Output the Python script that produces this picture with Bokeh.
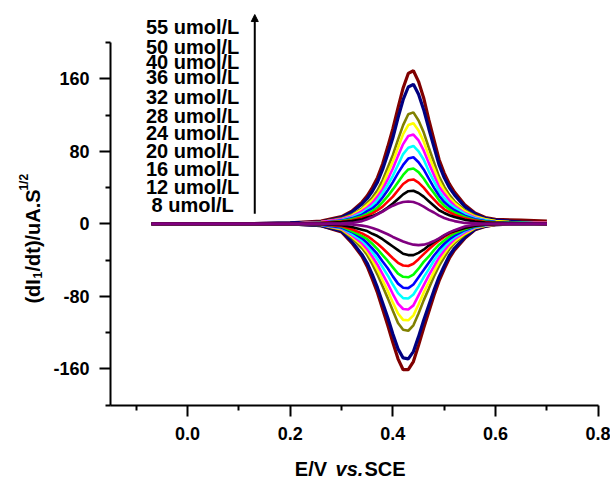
import math
from bokeh.plotting import figure
from bokeh.models import FixedTicker, Label, Arrow, NormalHead, Range1d, ColumnDataSource
from bokeh.embed import file_html
from bokeh.resources import INLINE
from bokeh.core.properties import value

# ---------------- data ----------------
potential = [-0.07, 0.10, 0.20, 0.26, 0.30, 0.32, 0.34, 0.35, 0.36, 0.37, 0.38, 0.39, 0.40,
             0.41, 0.42, 0.43, 0.44, 0.45, 0.46, 0.47, 0.48, 0.49, 0.50, 0.51, 0.52, 0.54,
             0.56, 0.58, 0.60, 0.65, 0.70]

concentrations = ["8 umol/L", "12 umol/L", "16 umol/L", "20 umol/L", "24 umol/L", "28 umol/L",
                  "32 umol/L", "36 umol/L", "40 umol/L", "50 umol/L", "55 umol/L"]
colors = ["#800080", "#000000", "#FF0000", "#00FF00", "#0000FF", "#00FFFF",
          "#FF00FF", "#FFFF00", "#808000", "#000080", "#800000"]

up_8 = [0, 0, 0, 0, 0.5, 1, 3, 5, 7.5, 10.5, 13.5, 17, 20, 22.5, 24, 24.7, 24, 22, 19, 15.5, 12.5, 9, 6.5, 4.5, 3, 1, 0.5, 0, 0, 0, 0]
up_12 = [0, 0, 0, 0.5, 2, 3, 5, 7, 8.5, 11, 14, 18, 22.5, 27.5, 32.5, 36, 36.5, 34, 30, 25, 20, 15, 12, 9.5, 7.5, 4.5, 2.5, 1.5, 1, 0.5, 0]
up_16 = [0, 0, 0, 1, 2.5, 4, 7, 9, 11.5, 15, 19, 24.5, 30, 37, 44, 48, 49, 45.5, 40, 33, 27, 21, 16, 13, 10, 6, 3.5, 2, 1, 0.5, 0]
up_20 = [0, 0, 0, 1, 3, 5, 8.5, 11, 14, 18, 24, 30.5, 38, 46, 54, 60, 61, 57, 50, 41.5, 34, 26, 20, 16, 12.5, 7.5, 4, 2.5, 1.5, 1, 0]
up_24 = [0, 0, 0, 1, 3.5, 6, 10, 14, 17, 22, 29, 37, 46, 56, 65, 72, 73.5, 68, 60, 50, 40, 31, 24, 19, 15, 9, 5, 3, 2, 1, 0]
up_28 = [0, 0, 0, 1, 4, 7, 12, 16, 20, 26, 34, 43, 53, 65, 77, 84, 86, 80, 71, 58, 47, 36, 28, 22, 18, 11, 6, 4, 2, 1, 0]
up_32 = [0, 0, 0, 2, 5, 8, 14, 18, 23, 30, 38, 49, 61, 75, 88, 97, 98.5, 92, 81, 67, 54, 41, 33, 26, 20, 12, 7, 4, 2, 1, 1]
up_36 = [0, 0, 0, 2, 5, 9, 16, 21, 26, 33, 43, 56, 69, 84, 99, 109, 111, 103, 91, 75, 61, 47, 37, 29, 23, 14, 8, 5, 3, 1, 1]
up_40 = [0, 0, 0, 2, 6, 10, 17, 23, 29, 37, 48, 62, 76, 93, 109, 121, 123, 114, 101, 84, 68, 52, 41, 32, 25, 15, 9, 5, 3, 1, 1]
up_50 = [0, 0, 1, 2, 7, 13, 22, 28, 36, 46, 60, 77, 95, 117, 137, 151, 154, 143, 126, 105, 85, 65, 51, 40, 32, 19, 11, 6, 4, 2, 1]
up_55 = [0, 0, 1, 3, 8, 14, 24, 31, 40, 51, 66, 85, 105, 128, 150, 166, 169, 157, 139, 115, 93, 71, 56, 44, 35, 21, 12, 7, 5, 4, 3]

low_8 = [0, 0, 0, 0, -0.3, -0.8, -2, -3, -4.5, -6.5, -9, -11.5, -14.5, -17, -19.5, -21.5, -23, -23.5, -23, -21.5, -19, -16, -12.5, -9.5, -7, -3, -1, -0.3, 0, 0, 0]
low_12 = [0, 0, 0, -0.5, -1.5, -3.5, -6.5, -8, -11, -13.5, -17, -21, -25, -29, -33, -34.5, -34.5, -32, -28.5, -24, -20, -16.5, -13, -10, -8, -4.5, -2, -1, -0.5, 0, 0]
low_16 = [0, 0, 0, -0.5, -2.5, -6, -10.5, -13.5, -17.5, -22, -27, -32.5, -38, -43, -46, -46.5, -44, -39, -33.5, -28, -23, -18.5, -14.5, -11, -8.5, -4.5, -2, -1, -0.5, 0, 0]
low_20 = [0, 0, 0, -0.5, -3, -8, -13.5, -17, -22, -28, -34.5, -41, -48, -55, -58.5, -59, -56, -49.5, -42, -36, -29, -23, -18.5, -14, -10.5, -6, -2.5, -1, -0.5, 0, 0]
low_24 = [0, 0, 0, -1, -4, -9, -16, -21, -27, -33.5, -41.5, -49, -58, -66, -70.5, -71, -67, -59, -51, -43, -35, -28, -22, -17, -13, -7, -3, -1, -0.5, 0, 0]
low_28 = [0, 0, 0, -1, -4.5, -11, -18.5, -24, -31, -39, -48, -57, -67, -76.5, -82, -82.5, -78, -69, -59, -50, -40.5, -32.5, -25.5, -19.5, -15, -8, -3.5, -1.5, -0.5, 0, 0]
low_32 = [0, 0, 0, -1, -5, -12.5, -21.5, -28, -36, -45, -55.5, -66, -77.5, -88, -94, -94.5, -90, -79, -68, -57, -47, -37, -29.5, -22.5, -17, -9.5, -4, -1.5, -1, 0, 0]
low_36 = [0, 0, 0, -1, -6, -14, -24, -31, -40, -50.5, -62.5, -74, -87, -99, -106, -106.5, -101, -89, -76, -64.5, -53, -42, -33, -25, -19.5, -11, -4.5, -2, -1, 0, 0]
low_40 = [0, 0, 0, -1.5, -6.5, -15.5, -27, -34.5, -44.5, -56, -69, -82, -96, -109.5, -117, -118, -112, -99, -84.5, -71.5, -58, -46.5, -37, -28, -21.5, -12, -5, -2, -1, 0, 0]
low_50 = [0, 0, 0, -2, -8, -19.5, -34, -43.5, -56, -70.5, -87, -103.5, -121.5, -138, -148, -149, -141, -124.5, -106.5, -90, -73.5, -58.5, -46.5, -35, -27, -15, -6, -2.5, -1, 0, 0]
low_55 = [0, 0, 0, -2, -9, -21, -36, -47, -61, -76, -94, -112, -131, -149, -161, -161, -152, -134, -115, -97, -79, -63, -50, -38, -29, -16, -6.5, -3, -1, 0, 0]

upper_curves = [up_8, up_12, up_16, up_20, up_24, up_28, up_32, up_36, up_40, up_50, up_55]
lower_curves = [low_8, low_12, low_16, low_20, low_24, low_28, low_32, low_36, low_40, low_50, low_55]

x_major = [0.0, 0.2, 0.4, 0.6, 0.8]
x_minor = [-0.1, 0.1, 0.3, 0.5, 0.7]
x_tick_labels = ["0.0", "0.2", "0.4", "0.6", "0.8"]
y_major = [-160, -80, 0, 80, 160]
y_minor = [-200, -120, -40, 40, 120, 200]
y_tick_labels = ["-160", "-80", "0", "80", "160"]
x_axis_bounds = (-0.15, 0.8)
y_axis_bounds = (-200, 200)

# positions of the concentration captions (data units)
caption_x = 0.01
caption_y = [20.9, 40.4, 60.3, 80.5, 100.0, 119.5, 139.7, 162.2, 178.4, 194.9, 217.0]

FONT = "Liberation Sans"

# The frame covers the whole canvas; axes sit at fixed data locations so that the
# axis titles (with sub/superscripts) can be drawn as labels inside the frame.
p = figure(width=610, height=479, output_backend="svg", toolbar_location=None,
           x_range=Range1d(-0.36426, 0.82390), y_range=Range1d(-282.2, 246.5),
           min_border=0)
p.outline_line_color = None
p.grid.visible = False
p.background_fill_color = "white"
p.border_fill_color = "white"

for ax in (p.xaxis[0], p.yaxis[0]):
    ax.axis_line_width = 2
    ax.major_tick_line_width = 2
    ax.minor_tick_line_width = 2
    ax.major_tick_in = 0
    ax.minor_tick_in = 0
    ax.major_tick_out = 11
    ax.minor_tick_out = 5
    ax.major_label_text_font = FONT
    ax.major_label_text_font_style = "bold"
    ax.major_label_text_font_size = "18px"
    ax.major_label_text_color = "black"

p.xaxis.fixed_location = y_axis_bounds[0]
p.xaxis.ticker = FixedTicker(ticks=x_major, minor_ticks=x_minor)
p.xaxis.major_label_overrides = {t: l for t, l in zip(x_major, x_tick_labels)}
p.xaxis.bounds = x_axis_bounds
p.xaxis.major_label_standoff = 11
p.yaxis.fixed_location = x_axis_bounds[0]
p.yaxis.ticker = FixedTicker(ticks=y_major, minor_ticks=y_minor)
p.yaxis.major_label_overrides = {t: l for t, l in zip(y_major, y_tick_labels)}
p.yaxis.bounds = y_axis_bounds
p.yaxis.major_label_standoff = 10

# curves: largest first so that smaller ones sit on top
for up, low, col in reversed(list(zip(upper_curves, lower_curves, colors))):
    lw = 3.2 if col in ("#800000", "#000080") else 2.6
    p.line(potential, up, line_color=col, line_width=lw)
    p.line(potential, low, line_color=col, line_width=lw)

src = ColumnDataSource(dict(x=[caption_x] * len(concentrations), y=caption_y, t=concentrations))
p.text(x="x", y="y", text="t", source=src, text_font=value(FONT), text_font_style="bold",
       text_font_size="20px", text_align="center", text_baseline="middle", text_color="black")

p.add_layout(Arrow(end=NormalHead(size=7, fill_color="black", line_color="black", line_width=1),
                   x_start=0.131, y_start=11, x_end=0.131, y_end=231,
                   line_color="black", line_width=2))

# y axis title with subscript / superscript
yl_x, yl_y = -0.300, -88
rot = math.pi / 2
for txt, size, dy, dx in [("(dI", 20, 0, 0), ("1", 12, 25, 4), ("/dt)/uA.S", 20, 32, 0), ("1/2", 12, 113, -9)]:
    p.add_layout(Label(x=yl_x, y=yl_y, x_offset=dx, y_offset=dy, text=txt, angle=rot,
                       text_font=FONT, text_font_style="bold", text_font_size=f"{size}px",
                       text_align="left", text_baseline="alphabetic", text_color="black"))

# x axis title: E/V vs.SCE
xl_y = -271
for txt, xpos, style in [("E/V", 0.209, "bold"), ("vs.", 0.2883, "bold italic"), ("SCE", 0.3447, "bold")]:
    p.add_layout(Label(x=xpos, y=xl_y, text=txt, text_font=FONT, text_font_style=style,
                       text_font_size="20px", text_align="left", text_baseline="alphabetic",
                       text_color="black"))

open("out.html", "w").write(file_html(p, INLINE))
